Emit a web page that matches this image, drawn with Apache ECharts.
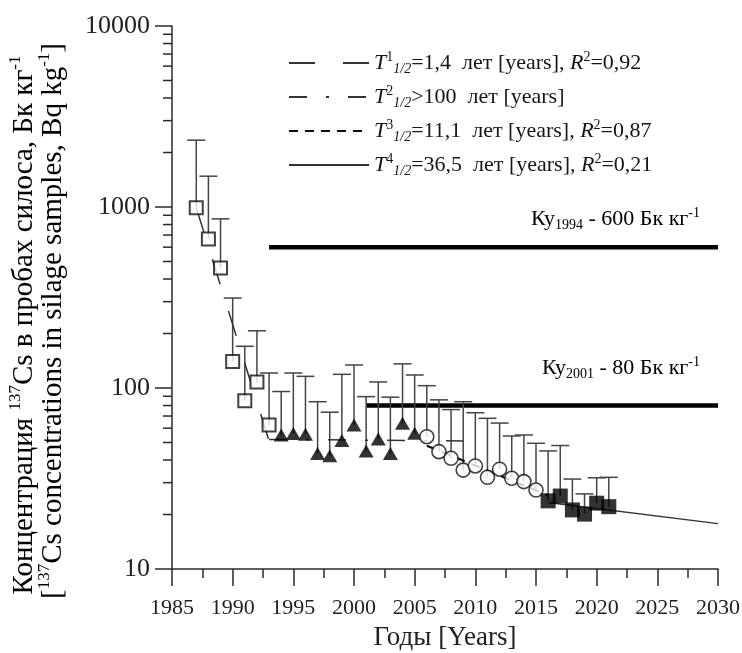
<!DOCTYPE html>
<html><head><meta charset="utf-8">
<script src="https://cdn.jsdelivr.net/npm/echarts@6/dist/echarts.min.js"></script>
<style>html,body{margin:0;padding:0;background:#fff}#c{width:742px;height:653px}</style>
</head><body><div id="c"></div>
<script>
const FONT = 'Liberation Serif';

// open squares 1987-1993
const sqYears  = [1987, 1988, 1989, 1990, 1991, 1992, 1993];
const sqValues = [990, 665, 460, 140, 85, 108, 62.5];
const sqUpper  = [2340, 1480, 860, 314, 170, 207, 121];
// filled triangles 1994-2005
const triYears  = [1994, 1995, 1996, 1997, 1998, 1999, 2000, 2001, 2002, 2003, 2004, 2005];
const triValues = [55, 56, 55.5, 43.5, 42.3, 51.2, 62.5, 44.9, 52.3, 43.5, 63.8, 56.2];
const triUpper  = [95.6, 121, 116, 84, 73.5, 119, 134, 89.6, 108, 89, 136, 118];
// open circles 2006-2015
const circYears  = [2006, 2007, 2008, 2009, 2010, 2011, 2012, 2013, 2014, 2015];
const circValues = [53.8, 44.5, 40.9, 35.2, 37.1, 32.1, 35.6, 31.7, 30.4, 27.3];
const circUpper  = [103, 86, 76, 84, 73, 68, 64, 54.3, 55, 49.5];
// filled squares 2016-2021
const fsqYears  = [2016, 2017, 2018, 2019, 2020, 2021];
const fsqValues = [23.8, 25.3, 21.2, 20.1, 23.1, 22.1];
const fsqUpper  = [44.9, 48.1, 31.4, 26, 31.9, 32.1];

// fitted half-life lines (end points)
const fit1 = [[1987, 990], [1993, 51]];
const fit2 = [[1993, 52], [2009, 51]];
const fit3 = [[2006, 48], [2016, 25.5]];
const fit4 = [[2016, 23.3], [2030, 17.8]];
// permissible levels
const ku1994 = [[1993, 600], [2030, 600]];
const ku2001 = [[2001, 80], [2030, 80]];

// log-axis minor tick values
const yMinorTicks = [20,30,40,50,60,70,80,90,200,300,400,500,600,700,800,900,2000,3000,4000,5000,6000,7000,8000,9000];

const fitNames = ['T1', 'T2', 'T3', 'T4'];
const legendTexts = [
  '{i|T}{sup|1}{sub|1/2}{n|=1,4  лет [years], }{i|R}{sup|2}{n|=0,92}',
  '{i|T}{sup|2}{sub|1/2}{n|>100  лет [years]}',
  '{i|T}{sup|3}{sub|1/2}{n|=11,1  лет [years], }{i|R}{sup|2}{n|=0,87}',
  '{i|T}{sup|4}{sub|1/2}{n|=36,5  лет [years], }{i|R}{sup|2}{n|=0,21}'
];
const kuTexts = ['{n|Ку}{subn|1994}{n| - 600 Бк кг}{sup|-1}', '{n|Ку}{subn|2001}{n| - 80 Бк кг}{sup|-1}'];
const yTitle1 = '{n|Концентрация }{sup|137}{n|Cs в пробах силоса, Бк кг}{sup|-1}';
const yTitle2 = '{n|[}{sup|137}{n|Cs concentrations in silage samples, Bq kg}{sup|-1}{n|]}';
const xTitle = 'Годы [Years]';

const zip = (xs, a, b) => xs.map((x, i) => b ? [x, a[i], b[i]] : [x, a[i]]);
const AX = '#2a2a2a';
const TX = '#151515';

const richBase = {
  n: {fontFamily: FONT, fontSize: 22, color: TX, lineHeight: 26},
  i: {fontFamily: FONT, fontSize: 22, color: TX, fontStyle: 'italic', lineHeight: 26},
  sup: {fontFamily: FONT, fontSize: 14, color: TX, verticalAlign: 'top', lineHeight: 16},
  sub: {fontFamily: FONT, fontSize: 14, color: TX, fontStyle: 'italic', verticalAlign: 'bottom', lineHeight: 16},
  subn: {fontFamily: FONT, fontSize: 14, color: TX, verticalAlign: 'bottom', lineHeight: 16}
};
const richTitle = {
  n: {fontFamily: FONT, fontSize: 29, color: '#222', lineHeight: 33},
  sup: {fontFamily: FONT, fontSize: 17, color: '#222', verticalAlign: 'top', lineHeight: 19}
};

function errorBars(name, data) {
  return {
    name: name, type: 'custom', z: 2, silent: true, clip: false,
    encode: {x: 0, y: [1, 2]},
    data: data,
    renderItem: function (params, api) {
      const p = api.coord([api.value(0), api.value(1)]);
      const t = api.coord([api.value(0), api.value(2)]);
      const st = {stroke: '#444', lineWidth: 1.5};
      return {type: 'group', children: [
        {type: 'line', shape: {x1: p[0], y1: p[1], x2: t[0], y2: t[1]}, style: st},
        {type: 'line', shape: {x1: t[0] - 9, y1: t[1], x2: t[0] + 9, y2: t[1]}, style: st}
      ]};
    }
  };
}

const chart = echarts.init(document.getElementById('c'), null, {renderer: 'canvas'});
const option = {
  animation: false,
  backgroundColor: '#fff',
  grid: {left: 172, right: 24, top: 26, bottom: 84, containLabel: false, outerBoundsMode: 'none'},
  xAxis: {
    type: 'value', min: 1985, max: 2030, interval: 5,
    axisLine: {lineStyle: {color: AX, width: 1.5}},
    axisTick: {length: 17, lineStyle: {color: AX, width: 1.5}},
    minorTick: {show: true, splitNumber: 2, length: 9, lineStyle: {color: AX, width: 1.5}},
    splitLine: {show: false},
    axisLabel: {fontFamily: FONT, fontSize: 22, color: '#222', margin: 28, formatter: v => String(v)},
    name: xTitle, nameLocation: 'middle', nameGap: 55,
    nameTextStyle: {fontFamily: FONT, fontSize: 27, color: '#222'}
  },
  yAxis: {
    type: 'log', logBase: 10, min: 10, max: 10000,
    axisLine: {show: true, lineStyle: {color: AX, width: 1.5}},
    axisTick: {show: true, length: 17, lineStyle: {color: AX, width: 1.5}},
    splitLine: {show: false},
    axisLabel: {fontFamily: FONT, fontSize: 26, color: '#222', margin: 22, formatter: v => String(v)}
  },
  legend: {
    orient: 'vertical', left: 283, top: 45,
    itemWidth: 80, itemHeight: 14, itemGap: 8,
    data: fitNames,
    selectedMode: false,
    itemStyle: {color: 'rgba(0,0,0,0)', borderColor: 'rgba(0,0,0,0)', borderWidth: 0, opacity: 0},
    formatter: function (name) { return legendTexts[fitNames.indexOf(name)]; },
    textStyle: {fontFamily: FONT, fontSize: 22, color: TX, rich: richBase}
  },
  series: [
    {type: 'custom', name: 'minorTicks', silent: true, clip: false, z: 1,
     data: yMinorTicks.map(v => [1985, v]), encode: {x: 0, y: 1},
     renderItem: function (params, api) {
       const p = api.coord([api.value(0), api.value(1)]);
       return {type: 'line', shape: {x1: p[0] - 9, y1: p[1], x2: p[0], y2: p[1]}, style: {stroke: AX, lineWidth: 1.5}};
     }},
    {name: 'Ku1994', type: 'line', data: ku1994, symbol: 'none', z: 1, silent: true,
     lineStyle: {color: '#000', width: 4.5}},
    {name: 'Ku2001', type: 'line', data: ku2001, symbol: 'none', z: 1, silent: true,
     lineStyle: {color: '#000', width: 4.5}},
    errorBars('e1', zip(sqYears, sqValues, sqUpper)),
    errorBars('e2', zip(triYears, triValues, triUpper)),
    errorBars('e3', zip(circYears, circValues, circUpper)),
    errorBars('e4', zip(fsqYears, fsqValues, fsqUpper)),
    {name: 'T1', type: 'line', data: fit1, symbol: 'none', z: 3,
     lineStyle: {color: '#333', width: 1.5, type: [26, 28]}},
    {name: 'T2', type: 'line', data: fit2, symbol: 'none', z: 3,
     lineStyle: {color: '#333', width: 1.5, type: [18, 19, 3, 19]}},
    {name: 'T3', type: 'line', data: fit3, symbol: 'none', z: 3,
     lineStyle: {color: '#111', width: 2.2, type: [9, 7]}},
    {name: 'T4', type: 'line', data: fit4, symbol: 'none', z: 3,
     lineStyle: {color: '#333', width: 1.3}},
    {name: 'sq', type: 'scatter', data: zip(sqYears, sqValues), symbol: 'rect', symbolSize: 13, z: 4,
     itemStyle: {color: '#fff', borderColor: '#111', borderWidth: 2}},
    {name: 'tri', type: 'scatter', data: zip(triYears, triValues), symbol: 'triangle', symbolSize: [15, 13], z: 4,
     itemStyle: {color: '#000'}},
    {name: 'circ', type: 'scatter', data: zip(circYears, circValues), symbol: 'circle', symbolSize: 14, z: 4,
     itemStyle: {color: '#fff', borderColor: '#111', borderWidth: 1.6}},
    {name: 'fsq', type: 'scatter', data: zip(fsqYears, fsqValues), symbol: 'rect', symbolSize: 15, z: 4,
     itemStyle: {color: '#000'}}
  ]
};
chart.setOption(option);

const p94 = chart.convertToPixel({gridIndex: 0}, ku1994[1]);
const p01 = chart.convertToPixel({gridIndex: 0}, ku2001[1]);
chart.setOption({
  graphic: [
    {type: 'text', x: 24, y: 325, rotation: Math.PI / 2,
     style: {text: yTitle1, align: 'center', verticalAlign: 'middle', rich: richTitle}},
    {type: 'text', x: 53, y: 321, rotation: Math.PI / 2,
     style: {text: yTitle2, align: 'center', verticalAlign: 'middle', rich: richTitle}},
    {type: 'text', x: p94[0] - 18, y: p94[1] - 28,
     style: {text: kuTexts[0], align: 'right', verticalAlign: 'middle', rich: richBase}},
    {type: 'text', x: p01[0] - 18, y: p01[1] - 37,
     style: {text: kuTexts[1], align: 'right', verticalAlign: 'middle', rich: richBase}}
  ]
});
</script></body></html>
